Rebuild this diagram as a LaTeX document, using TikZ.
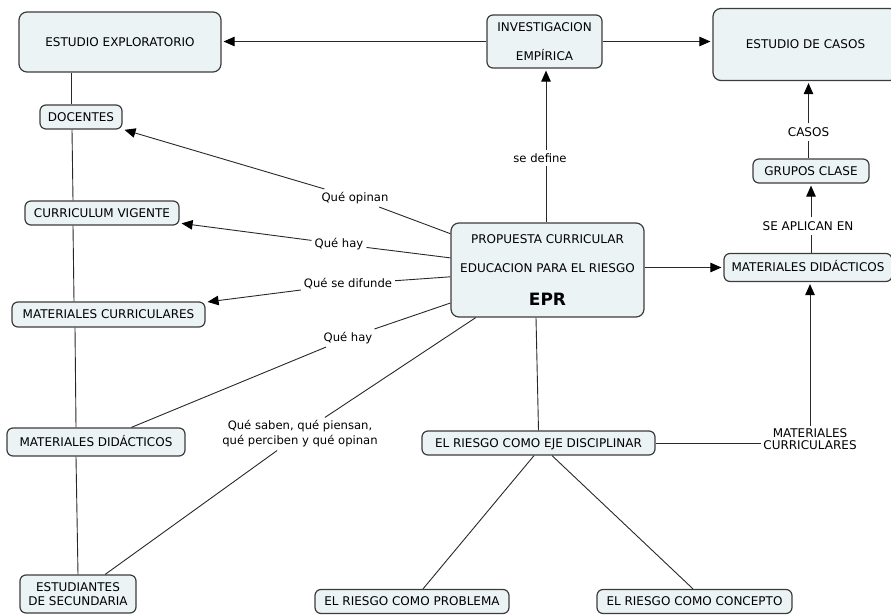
\documentclass[tikz,border=0pt]{standalone}
\usepackage{fontspec}
\setmainfont{DejaVu Sans}
\usetikzlibrary{arrows.meta}

\definecolor{boxfill}{RGB}{235,243,245}
\definecolor{boxline}{RGB}{60,60,60}
\definecolor{linkline}{RGB}{40,40,40}

\tikzset{
  conceptbase/.style={draw=boxline, line width=1.2pt, fill=boxfill,
    rounded corners=6pt, align=center, inner sep=0pt,
    font=\fontsize{12}{14}\selectfont},
  concept/.style={conceptbase, text height=8.75pt, text depth=0pt},
  bigconcept/.style={concept, rounded corners=8pt},
  linklabel/.style={fill=white, inner sep=3pt, align=center,
    font=\fontsize{11.6}{15}\selectfont},
  capslabel/.style={fill=white, inner sep=4pt, align=center,
    font=\fontsize{12}{12}\selectfont},
  link/.style={draw=linkline, line width=0.9pt},
  arrowlink/.style={link, -{Triangle[length=11pt,width=9.5pt,color=black]}, shorten >=2pt},
}

\begin{document}
\begin{tikzpicture}[x=1pt,y=-1pt]
\useasboundingbox (0,0) rectangle (891,615);
\clip (0,0) rectangle (891,615);

% concepts
\node[bigconcept, minimum width=202pt, minimum height=60pt] (ee) at (120,42) {ESTUDIO EXPLORATORIO};
\node[conceptbase, minimum width=115pt, minimum height=53pt, font=\fontsize{12}{29}\selectfont] (inv) at (544.5,41.5) {INVESTIGACION\\EMPÍRICA};
\node[bigconcept, minimum width=185pt, minimum height=72pt] (ec) at (805.5,44.5) {ESTUDIO DE CASOS};
\node[concept, minimum width=82pt, minimum height=24pt] (doc) at (81,117) {DOCENTES};
\node[concept, minimum width=154pt, minimum height=24pt] (cv) at (102,213) {CURRICULUM VIGENTE};
\node[concept, minimum width=193pt, minimum height=25pt] (mc) at (108.5,314.5) {MATERIALES CURRICULARES};
\node[concept, minimum width=178pt, minimum height=28pt] (mdl) at (96,442) {MATERIALES DIDÁCTICOS};
\node[conceptbase, minimum width=116pt, minimum height=38pt] (es) at (78,594) {ESTUDIANTES\\DE SECUNDARIA};
\node[conceptbase, rounded corners=8pt, minimum width=193pt, minimum height=94pt, font=\fontsize{12}{29}\selectfont] (epr) at (547.5,270)
  {PROPUESTA CURRICULAR\\EDUCACION PARA EL RIESGO\\[4.8pt]{\fontsize{17}{20}\selectfont\bfseries EPR}};
\node[concept, minimum width=168pt, minimum height=28pt] (mdr) at (808,267.5) {MATERIALES DIDÁCTICOS};
\node[concept, minimum width=116pt, minimum height=24pt] (gc) at (811,171) {GRUPOS CLASE};
\node[concept, minimum width=233pt, minimum height=24pt] (eje) at (538.5,443) {EL RIESGO COMO EJE DISCIPLINAR};
\node[concept, minimum width=194pt, minimum height=24pt] (prob) at (412,601.5) {EL RIESGO COMO PROBLEMA};
\node[concept, minimum width=195pt, minimum height=24pt] (conc) at (694.5,601.5) {EL RIESGO COMO CONCEPTO};

% link labels
\node[linklabel] (ldef) at (540,158) {se define};
\node[linklabel] (lop) at (355,198) {Qué opinan};
\node[linklabel] (lhay1) at (339,244) {Qué hay};
\node[linklabel] (ldif) at (348,284) {Qué se difunde};
\node[linklabel] (lhay2) at (348,338) {Qué hay};
\node[linklabel] (lsab) at (300,434) {Qué saben, qué piensan,\\qué perciben y qué opinan};
\node[capslabel] (lapl) at (808,226) {SE APLICAN EN};
\node[capslabel] (lcas) at (808.5,132) {CASOS};
\node[capslabel, inner sep=2pt] (lmc) at (810,439) {MATERIALES\\CURRICULARES};

% x positions of the vertical links
\coordinate (xdef) at (546,0);
\coordinate (x71) at (71,0);
\coordinate (x72) at (72,0);
\coordinate (x73) at (73,0);
\coordinate (x74) at (74,0);
\coordinate (x75) at (75,0);
\coordinate (x76) at (76,0);
\coordinate (x78) at (78,0);

% top row
\draw[arrowlink] (inv.west) -- (ee.east |- inv.west);
\draw[arrowlink] (inv.east) -- (ec.west |- inv.east);
\draw[link] (epr.north -| xdef) -- (ldef.south -| xdef);
\draw[arrowlink] (ldef.north -| xdef) -- (inv.south -| xdef);

% links from the proposal to the left column
\draw[link] (epr) -- (lop);
\draw[arrowlink] (lop) -- (doc);
\draw[link] (epr) -- (lhay1);
\draw[arrowlink] (lhay1) -- (cv);
\draw[link] (epr) -- (ldif);
\draw[arrowlink] (ldif) -- (mc);
\draw[link] (epr) -- (lhay2);
\draw[link] (lhay2) -- (mdl);
\draw[link] (epr) -- (lsab);
\draw[link] (lsab) -- (es);

% left column chain
\draw[link] (ee.south -| x71) -- (doc.north -| x71);
\draw[link] (doc.south -| x72) -- (cv.north -| x73);
\draw[link] (cv.south -| x73) -- (mc.north -| x74);
\draw[link] (mc.south -| x75) -- (mdl.north -| x76);
\draw[link] (mdl.south -| x76) -- (es.north -| x78);

% right column
\draw[arrowlink] (epr.east |- mdr.west) -- (mdr.west);
\draw[link] (mdr.north -| gc) -- (lapl.south -| gc);
\draw[arrowlink] (lapl.north -| gc) -- (gc.south);
\draw[link] (gc.north -| lcas) -- (lcas.south);
\draw[arrowlink] (lcas.north) -- (ec.south -| lcas);
\draw[link] (eje.east) -- (lmc.west |- eje.east);
\draw[arrowlink] (lmc.north) -- (mdr.south -| lmc.north);

% lower part
\draw[link] ([xshift=-11.5pt]epr.south) -- (eje.north);
\draw[link] ([xshift=-4.5pt]eje.south) -- ([xshift=11pt]prob.north);
\draw[link] ([xshift=13.5pt]eje.south) -- ([xshift=-1.5pt]conc.north);
\end{tikzpicture}
\end{document}
